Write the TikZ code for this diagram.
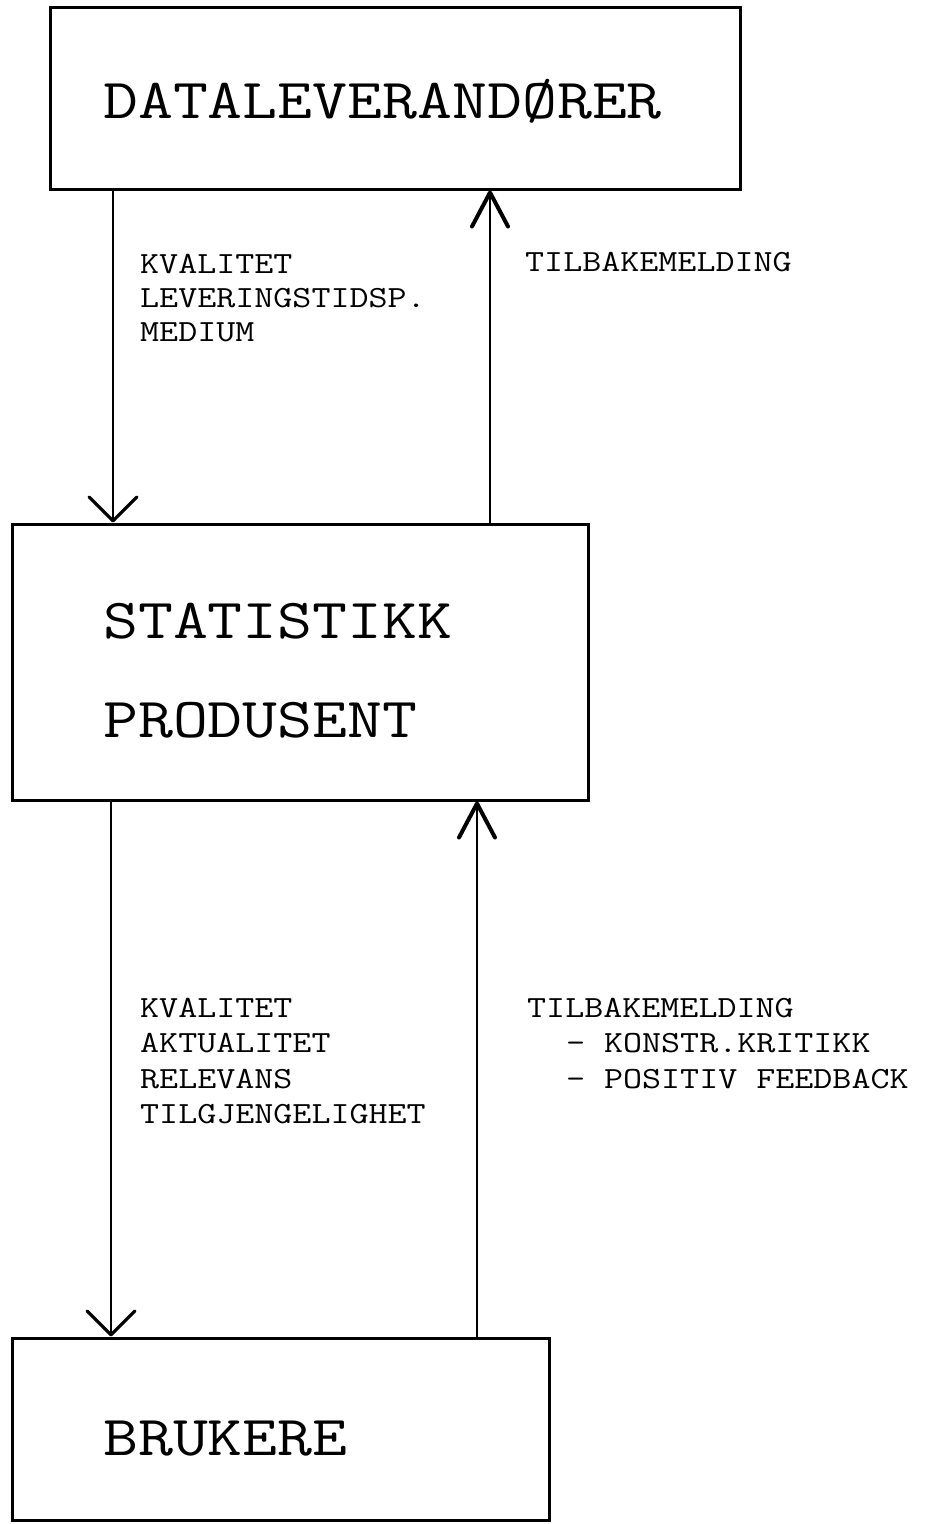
\documentclass[tikz,border=0pt]{standalone}
\usepackage{fontspec}
\newfontfamily\typew[FakeStretch=1.2]{Latin Modern Mono}
\usetikzlibrary{arrows.meta}
\begin{document}
\begin{tikzpicture}[x=1pt,y=-1pt,
  box/.style={draw,line width=3pt,inner sep=0pt},
  bigtxt/.style={font=\typew\fontsize{56.5}{58}\selectfont,anchor=base west,inner sep=0pt},
  lbltop/.style={font=\typew\fontsize{30.8}{34}\selectfont,anchor=north west,align=left,inner sep=0pt},
  lblbot/.style={font=\typew\fontsize{30.8}{35.5}\selectfont,anchor=north west,align=left,inner sep=0pt},
  flow/.style={line width=2.8pt},
  downtip/.style={-{Straight Barb[length=24pt,width=48pt,line width=3.2pt,round]}},
  uptip/.style={-{Straight Barb[length=34pt,width=36pt,line width=4pt,round]}},
]
\useasboundingbox (0,0) rectangle (927,1524);

% boxes
\node[box,minimum width=690pt,minimum height=182pt] (top) at (395,98) {};
\node[box,minimum width=576pt,minimum height=276pt] (mid) at (300,662) {};
\node[box,minimum width=537pt,minimum height=182pt] (bot) at (280.5,1429) {};

% box texts
\node[bigtxt] (toptxt) at (103,118) {DATALEVERANDØRER};
\node[bigtxt] (midtxt1) at (103,638) {STATISTIKK};
\node[bigtxt] (midtxt2) at (103,737) {PRODUSENT};
\node[bigtxt] (bottxt) at (103,1455) {BRUKERE};

% connector x positions
\coordinate (a1) at (113,0);
\coordinate (a2) at (490,0);
\coordinate (a3) at (111,0);
\coordinate (a4) at (477,0);

\draw[flow,downtip] (top.south -| a1) -- (mid.north -| a1);
\draw[flow,uptip] (mid.north -| a2) -- (top.south -| a2);
\draw[flow,downtip] (mid.south -| a3) -- (bot.north -| a3);
\draw[flow,uptip] (bot.north -| a4) -- (mid.south -| a4);

% labels
\node[lbltop] (q1) at (140,254) {KVALITET\\LEVERINGSTIDSP.\\MEDIUM};
\node[lbltop] (f1) at (525,252) {TILBAKEMELDING};
\node[lblbot] (q2) at (140,998) {KVALITET\\AKTUALITET\\RELEVANS\\TILGJENGELIGHET};
\node[lblbot] (f2) at (527,998) {TILBAKEMELDING\\\hspace*{1.26em}- KONSTR.KRITIKK\\\hspace*{1.26em}- POSITIV FEEDBACK};
\end{tikzpicture}
\end{document}
